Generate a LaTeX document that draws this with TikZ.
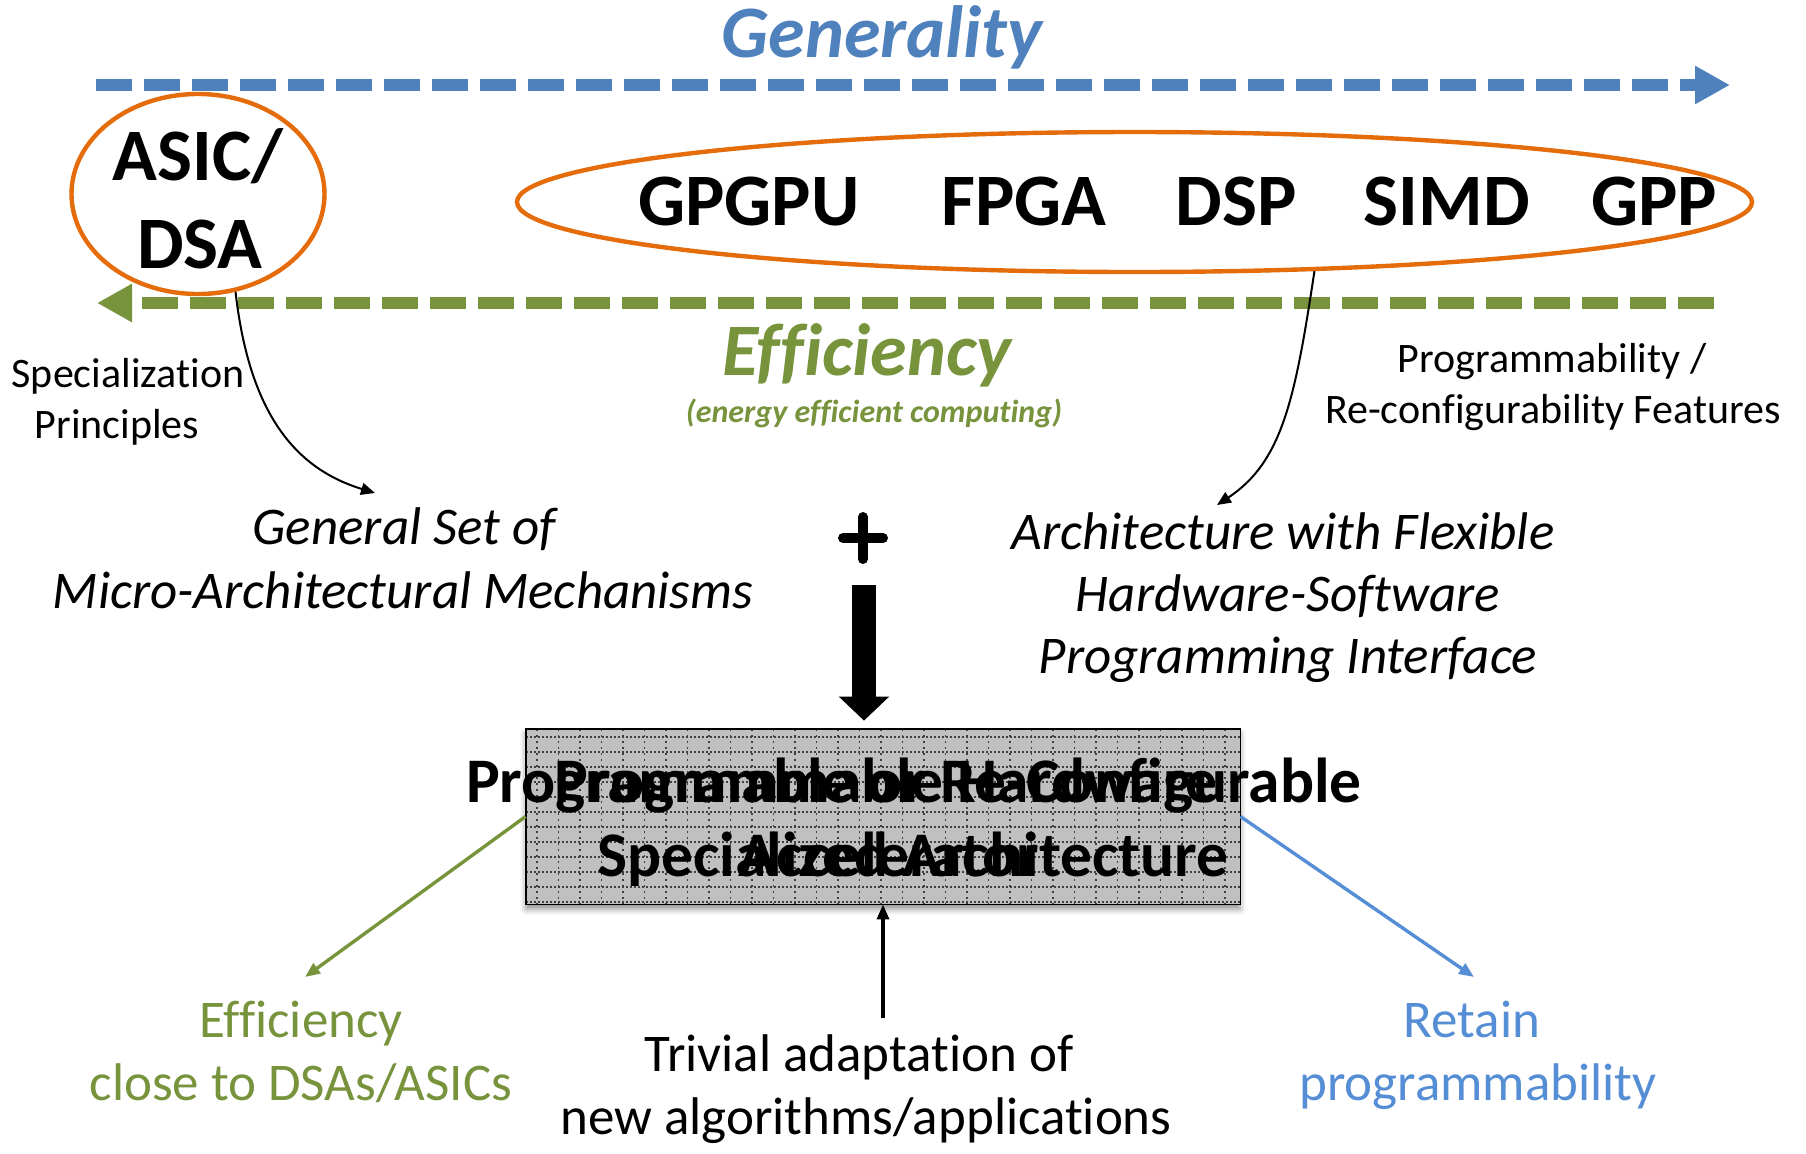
\documentclass[tikz,border=0pt]{standalone}
\usepackage{fontspec}
\setmainfont{Carlito}[Ligatures=CommonOff]
\usetikzlibrary{arrows.meta,shapes.geometric,shadows.blur}

\definecolor{genblue}{HTML}{4F81BD}
\definecolor{effgreen}{HTML}{77933C}
\definecolor{archorange}{HTML}{E46C0A}
\definecolor{progblue}{HTML}{558ED5}
\definecolor{boxgray}{HTML}{C0C0C0}

\begin{document}
\begin{tikzpicture}[x=0.5pt,y=-0.5pt,
  txt/.style={inner sep=0pt, anchor=base},
  axislabel/.style={txt, font=\fontsize{37}{44}\selectfont\bfseries\itshape},
  archname/.style={txt, font=\fontsize{37}{44}\selectfont\bfseries},
  note/.style={txt, font=\fontsize{21}{25}\selectfont},
  mech/.style={txt, font=\fontsize{26.5}{32}\selectfont\itshape},
  outcome/.style={txt, font=\fontsize{26.5}{32}\selectfont},
  coretext/.style={txt, font=\fontsize{31.75}{38}\selectfont\bfseries},
  family/.style={ellipse, draw=archorange, line width=2.2pt, inner sep=0pt},
  axisarrow/.style={line width=6pt, dash pattern=on 18pt off 6pt,
    -{Triangle[length=17.5pt,width=18pt]}},
  thinarrow/.style={line width=1pt, -{Triangle[length=7pt,width=6pt]}},
  outarrow/.style={line width=1.7pt, -{Triangle[length=7.5pt,width=6pt]}},
]
\useasboundingbox (0,0) rectangle (1806,1153);

% ---- generality axis ----
\node[axislabel, text=genblue] (gen) at (882,57) {Generality};
\coordinate (gentail) at (96,85);
\coordinate (genhead) at (1730,85);
\draw[axisarrow, genblue] (gentail) -- (genhead);

% ---- architecture families ----
\node[family, minimum width=126.5pt, minimum height=100pt] (asic) at (198,194) {};
\node[archname] (asic1) at (198,180) {ASIC/};
\node[archname] (asic2) at (200,268) {DSA};

\node[family, minimum width=617.5pt, minimum height=70pt] (prog) at (1134.5,202) {};
\node[archname] (gpgpu) at (749,225) {GPGPU};
\node[archname] (fpga) at (1024,225) {FPGA};
\node[archname] (dsp) at (1236,225) {DSP};
\node[archname] (simd) at (1447,225) {SIMD};
\node[archname] (gpp) at (1654,225) {GPP};

% ---- efficiency axis ----
\coordinate (efftail) at (1714,303);
\coordinate (effhead) at (97,303);
\draw[axisarrow, effgreen] (efftail) -- (effhead);
\node[axislabel, text=effgreen] (eff) at (867,375) {Efficiency};
\node[txt, text=effgreen, font=\fontsize{16}{19}\selectfont\bfseries\itshape]
  (energy) at (874,422) {(energy efficient computing)};

% ---- side notes ----
\node[note] (spec1) at (128,387) {Specialization};
\node[note] (spec2) at (117,438) {Principles};
\node[note] (progf1) at (1552,372) {Programmability /};
\node[note] (progf2) at (1553,423) {Re-configurability Features};

% ---- mechanisms ----
\node[mech] (gset1) at (404,544) {General Set of};
\node[mech] (gset2) at (403,608) {Micro-Architectural Mechanisms};
\node[mech] (flex1) at (1283,549) {Architecture with Flexible};
\node[mech] (flex2) at (1288,611) {Hardware-Software};
\node[mech] (flex3) at (1288,673) {Programming Interface};

\coordinate (gsettip) at (375,493);
\coordinate (flextip) at (1217,505);
\draw[thinarrow] (asic.-69.4) .. controls (250,420) and (300,470) .. (gsettip);
\draw[thinarrow] (prog.-21.6) .. controls (1295,400) and (1282,462) .. (flextip);

% ---- plus sign ----
\coordinate (plus) at (863,538);
\draw[line width=5pt, line cap=round] ([xshift=-10pt]plus) -- ([xshift=10pt]plus);
\draw[line width=5pt, line cap=round] ([yshift=10.5pt]plus) -- ([yshift=-10.5pt]plus);

% ---- central architecture box ----
\node[fill=boxgray, minimum width=357pt, minimum height=87.5pt, inner sep=0pt,
  blur shadow={shadow xshift=0pt, shadow yshift=-2.5pt, shadow blur radius=3pt,
  shadow opacity=45}] (core) at (883,816.5) {};
\begin{scope}
  \clip (core.south west) rectangle (core.north east);
  \foreach \gx in {537,558.5,...,1240}
    \draw[black!75, line width=0.7pt, dash pattern=on 1pt off 2pt] (\gx,729) -- (\gx,904);
  \foreach \gy in {737,752,...,904}
    \draw[black!75, line width=0.6pt, dash pattern=on 1pt off 1pt] (526,\gy) -- (1240,\gy);
\end{scope}
\draw[line width=0.9pt] (core.south west) rectangle (core.north east);

\coordinate (dropstart) at (864,585);
\draw[line width=12pt, shorten >=4pt, -{Triangle[length=12pt,width=24.5pt]}]
  (dropstart) -- (dropstart |- core.north);

\node[coretext] (coreA1) at (914,802) {Programmable or Re-Configurable};
\node[coretext] (coreA2) at (913,876) {Specialized Architecture};
\node[coretext] (coreB1) at (886,802) {Programmable Hardware};
\node[coretext] (coreB2) at (889,876) {Accelerator};

% ---- outcomes ----
\coordinate (effend) at (305,977);
\coordinate (retend) at (1474,977);
\coordinate (trivstart) at (883,1018);
\draw[outarrow, effgreen] (core.west) -- (effend);
\draw[outarrow, progblue] (core.east) -- (retend);
\draw[outarrow, black] (trivstart) -- (core.south);

\node[outcome, text=effgreen] (out1a) at (301,1037) {Efficiency};
\node[outcome, text=effgreen] (out1b) at (301,1100) {close to DSAs/ASICs};
\node[outcome] (out2a) at (859,1071) {Trivial adaptation of};
\node[outcome] (out2b) at (866,1134) {new algorithms/applications};
\node[outcome, text=progblue] (out3a) at (1472,1037) {Retain};
\node[outcome, text=progblue] (out3b) at (1478,1100) {programmability};
\end{tikzpicture}
\end{document}
